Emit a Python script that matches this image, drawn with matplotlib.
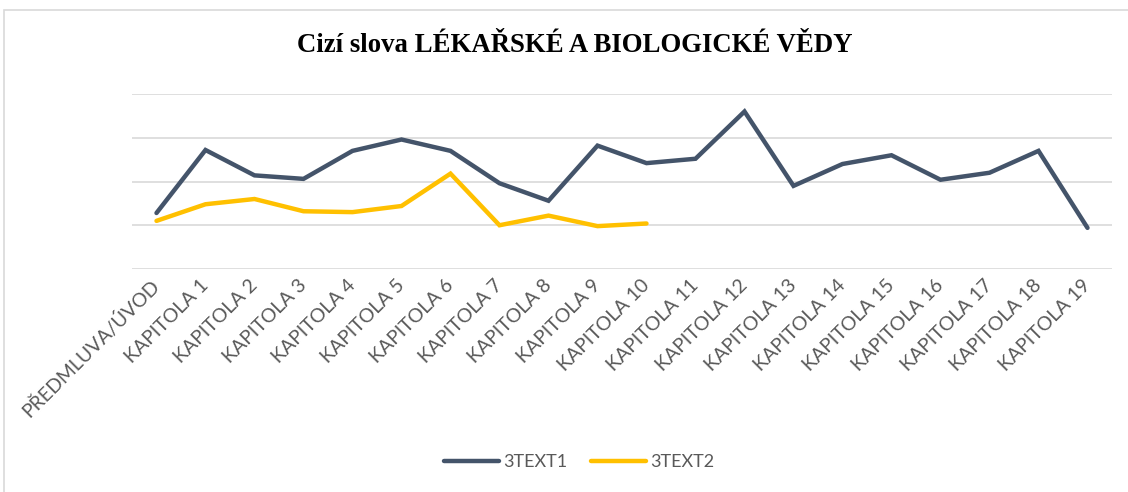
import matplotlib
matplotlib.use("Agg")
import matplotlib.pyplot as plt
from matplotlib.patches import Rectangle

categories = ["PŘEDMLUVA/ÚVOD"] + ["KAPITOLA %d" % i for i in range(1, 20)]
text1 = [6.4, 13.6, 10.7, 10.3, 13.5, 14.8, 13.5, 9.8, 7.8, 14.1,
         12.1, 12.6, 18.0, 9.5, 12.0, 13.0, 10.2, 11.0, 13.5, 4.7]
text2 = [5.5, 7.4, 8.0, 6.6, 6.5, 7.2, 10.9, 5.0, 6.1, 4.9, 5.2]
title = "Cizí slova LÉKAŘSKÉ A BIOLOGICKÉ VĚDY"

fig = plt.figure(figsize=(11.28, 4.92), dpi=100)
fig.patch.set_facecolor("white")
fig.add_artist(Rectangle((4 / 1128, -0.1), 1.2, 1 - 10 / 492 + 0.1,
                         transform=fig.transFigure, fill=False,
                         edgecolor="#D9D9D9", lw=1.2))

ax = fig.add_axes([132 / 1128, 1 - 269 / 492, 980 / 1128, 175 / 492])
x = list(range(len(categories)))
ax.plot(x, text1, color="#44546A", lw=3.2, solid_capstyle="round",
        solid_joinstyle="miter", label="3TEXT1", zorder=3)
ax.plot(x[:len(text2)], text2, color="#FFC000", lw=3.2, solid_capstyle="round",
        solid_joinstyle="miter", label="3TEXT2", zorder=3)

ax.set_xlim(-0.5, 19.5)
ax.set_ylim(0, 20)
ax.set_yticks([0, 5, 10, 15, 20])
ax.set_yticklabels([])
ax.grid(axis="y", color="#D9D9D9", lw=1.2)
ax.set_axisbelow(True)
ax.tick_params(axis="both", length=0)
for s in ax.spines.values():
    s.set_visible(False)

ax.set_xticks(x)
ax.set_xticklabels(categories, rotation=45, ha="right", va="center",
                   rotation_mode="anchor", color="#595959",
                   fontsize=14, family="Lato")
ax.tick_params(axis="x", pad=10)

fig.text(575 / 1128, 1 - 46 / 492, title, ha="center", va="center",
         fontsize=19.3, fontweight="bold", family="Liberation Serif")

fig.legend(loc="center", bbox_to_anchor=(579 / 1128, 1 - 462 / 492), ncol=2,
           frameon=False, handlelength=3.05, columnspacing=1.3,
           handletextpad=0.22, prop={"family": "Lato", "size": 13},
           labelcolor="#595959")

fig.savefig("out.png", dpi=100)
